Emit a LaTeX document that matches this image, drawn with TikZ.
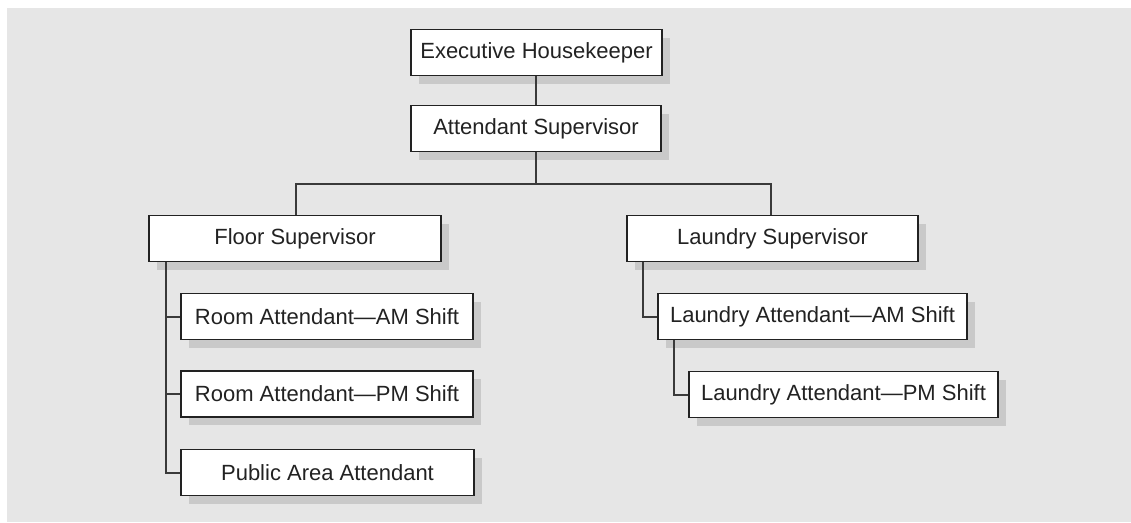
\documentclass[tikz,border=0pt]{standalone}
\usepackage{fontspec}
\setmainfont{Liberation Sans}
\usetikzlibrary{shadows}
\definecolor{bggray}{HTML}{E6E6E6}
\definecolor{shadowgray}{HTML}{C9C9C9}
\definecolor{inkgray}{HTML}{222222}
\definecolor{linegray}{HTML}{3A3A3A}
\begin{document}
\begin{tikzpicture}[x=1pt,y=-1pt,
  post/.style={draw=inkgray, line width=1.8pt, fill=white, inner sep=0pt,
    minimum height=46pt, text=inkgray,
    font=\fontsize{22pt}{26pt}\selectfont,
    drop shadow={shadow xshift=8pt, shadow yshift=-8pt, fill=shadowgray, opacity=1}},
  link/.style={draw=linegray, line width=2pt}]
  % page and grey panel
  \useasboundingbox (0,0) rectangle (1131,522);
  \fill[bggray] (7,8) rectangle (1131,522);

  % positions
  \node[post, minimum width=251pt] (exec) at (536.5,52.5) {Executive Housekeeper};
  \node[post, minimum width=250pt] (att)  at (536,128.5)  {Attendant Supervisor};
  \node[post, minimum width=292pt] (floor) at (295,238.5) {Floor Supervisor};
  \node[post, minimum width=291pt] (lsup) at (772.5,238.5) {Laundry Supervisor};
  \node[post, minimum width=292pt] (ram) at (327,316.5) {Room Attendant---AM Shift};
  \node[post, minimum width=292pt] (rpm) at (327,394)   {Room Attendant---PM Shift};
  \node[post, minimum width=293pt] (pub) at (327.5,472.5) {Public Area Attendant};
  \node[post, minimum width=309pt] (lam) at (812.5,316.5) {Laundry Attendant---AM Shift};
  \node[post, minimum width=309pt] (lpm) at (843.5,394.5) {Laundry Attendant---PM Shift};

  % branch points
  \coordinate (bus) at (536,184);
  \coordinate (ftrunk) at (166,262);
  \coordinate (ltrunk) at (643,262);
  \coordinate (lamtrunk) at (674,340);

  % reporting lines
  \draw[link] (att.north |- exec.south) -- (att.north);
  \draw[link] (att.south) -- (bus);
  \draw[link] (floor.north -| 296,0) |- (bus) -| (lsup.north -| 771,0);
  \draw[link] (ftrunk) |- (ram.west);
  \draw[link] (ftrunk) |- (rpm.west);
  \draw[link] (ftrunk) |- (pub.west);
  \draw[link] (ltrunk) |- (lam.west);
  \draw[link] (lamtrunk) |- (lpm.west);
\end{tikzpicture}
\end{document}
